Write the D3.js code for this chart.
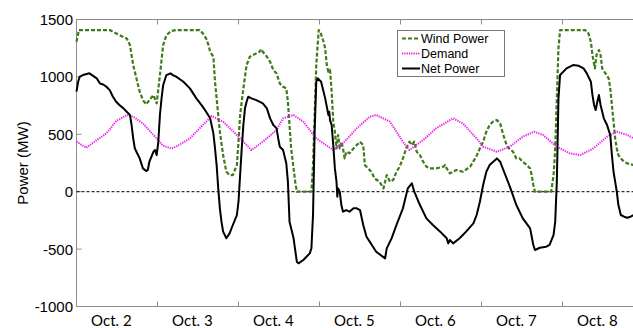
<!DOCTYPE html>
<html>
<meta charset="utf-8">
<script src="https://d3js.org/d3.v7.min.js"></script>
<style>
  body { margin: 0; background: #fff; }
</style>
<body>
<div id="my_dataviz"></div>
<script>

// data (x in days since Oct. 2 00:00, values in MW)
var windDays = [0.00,0.03,0.41,0.45,0.53,0.62,0.66,0.70,0.74,0.78,0.82,0.86,0.90,0.95,0.99,1.03,1.07,1.11,1.17,1.23,
  1.52,1.56,1.60,1.63,1.65,1.69,1.71,1.73,1.75,1.77,1.81,1.85,1.89,1.93,1.98,2.00,2.02,2.06,2.10,2.14,2.18,2.22,2.26,2.28,2.30,2.35,2.39,2.43,2.47,
  2.51,2.55,2.59,2.61,2.63,2.65,2.68,2.70,2.72,2.90,2.92,2.94,2.96,2.99,3.01,3.05,3.07,3.09,3.11,3.13,3.15,3.17,3.19,3.21,3.23,3.25,3.27,3.29,3.31,3.33,3.37,3.42,3.46,3.50,3.54,3.56,3.60,3.64,3.68,
  3.74,3.79,3.81,3.83,3.87,3.91,3.95,3.99,4.03,4.07,4.11,4.14,4.17,4.20,4.24,4.28,4.32,4.36,4.44,4.53,4.55,4.57,4.61,4.69,4.77,4.86,4.94,
  4.98,5.02,5.06,5.10,5.14,5.19,5.23,5.27,5.31,5.34,5.39,5.43,5.47,5.51,5.56,5.60,5.62,5.64,5.66,5.86,5.89,5.91,5.93,5.95,5.97,
  6.28,6.32,6.35,6.37,6.40,6.42,6.45,6.47,6.49,6.53,6.57,6.59,6.61,6.63,6.65,6.67,6.69,6.72,6.76,6.80,6.88];
var windMW = [1306,1408,1408,1393,1364,1335,1277,1103,987,871,798,761,798,842,769,1016,1277,1364,1400,1408,
  1408,1379,1335,1277,1219,1176,958,813,668,523,319,174,145,145,232,435,668,900,1103,1176,1190,1205,1219,1242,1219,1176,1132,1060,1030,
  943,914,900,784,581,377,203,87,0,0,232,668,1103,1408,1393,1306,1248,1103,1045,1060,871,610,523,377,494,377,435,377,290,348,334,377,406,435,406,232,203,174,116,
  87,29,87,145,87,102,174,218,290,377,435,406,435,348,319,261,218,203,203,218,232,203,160,189,174,218,312,
  377,435,523,581,610,624,595,494,406,377,348,290,290,261,232,203,145,58,0,0,145,377,813,1248,1408,
  1408,1379,1306,1190,1074,1190,1234,1190,1074,1031,987,900,755,610,465,377,319,290,261,247,232];

var demandDays = [0.00,0.12,0.25,0.37,0.49,0.62,0.70,0.82,0.95,1.07,1.17,1.23,1.40,1.56,1.67,1.81,1.98,2.16,2.30,2.47,
  2.55,2.68,2.80,2.96,3.17,3.29,3.46,3.62,3.70,3.87,4.03,4.11,4.28,4.44,4.65,4.77,4.94,
  5.02,5.19,5.35,5.51,5.65,5.76,5.93,6.09,6.22,6.38,6.55,6.67,6.80,6.88];
var demandMW = [435,383,450,508,615,668,653,595,494,401,377,392,464,581,659,610,494,363,435,537,
  639,668,610,464,363,421,552,653,668,610,435,363,450,552,639,595,464,
  392,348,392,479,523,494,392,334,319,377,479,523,494,464];

var netDays = [0.00,0.02,0.04,0.08,0.16,0.25,0.29,0.33,0.37,0.41,0.45,0.49,0.53,0.58,0.62,0.66,0.68,0.70,0.72,0.74,0.78,0.82,0.86,0.88,0.90,0.95,0.97,0.99,1.01,1.03,1.05,1.07,1.11,1.16,1.19,1.23,
  1.32,1.40,1.48,1.56,1.60,1.65,1.69,1.71,1.73,1.75,1.77,1.79,1.81,1.85,1.89,1.93,1.98,2.00,2.02,2.04,2.06,2.08,2.10,2.12,2.16,2.22,2.30,2.35,2.39,2.43,2.47,
  2.49,2.51,2.55,2.59,2.61,2.63,2.68,2.72,2.74,2.80,2.88,2.90,2.92,2.94,2.96,2.98,3.02,3.07,3.11,3.12,3.13,3.15,3.17,3.19,3.21,3.22,3.23,3.25,3.27,3.29,3.33,3.37,3.42,3.46,3.50,3.54,3.58,3.62,3.66,3.70,
  3.81,3.83,3.89,3.95,4.03,4.09,4.14,4.17,4.24,4.32,4.40,4.49,4.57,4.59,4.61,4.65,4.73,4.81,4.90,4.94,
  4.98,5.02,5.06,5.10,5.19,5.23,5.27,5.35,5.43,5.51,5.60,5.64,5.66,5.72,5.80,5.84,5.89,5.91,5.93,5.95,5.97,6.05,6.13,6.20,
  6.26,6.30,6.35,6.37,6.39,6.41,6.43,6.45,6.47,6.51,6.55,6.59,6.61,6.63,6.65,6.67,6.69,6.72,6.76,6.80,6.84,6.88];
var netMW = [871,958,1002,1016,1031,987,943,934,914,885,827,784,755,726,697,668,581,465,377,348,290,203,180,189,261,348,363,319,435,668,813,929,1016,1031,1016,1002,
  958,900,813,739,697,639,508,377,232,29,-145,-261,-348,-406,-363,-290,-203,-87,145,377,581,726,784,827,813,798,769,726,639,581,552,
  465,392,363,247,87,-261,-406,-610,-624,-595,-537,-494,-203,523,958,987,958,813,668,697,624,581,406,203,87,-44,29,0,-116,-174,-160,-174,-145,-145,-160,-290,-392,-435,-479,-523,
  -581,-494,-406,-290,-145,29,73,0,-116,-232,-290,-348,-406,-450,-421,-450,-406,-348,-276,-203,
  -87,58,174,232,290,261,189,44,-116,-232,-319,-464,-508,-488,-479,-464,-377,-261,87,813,1016,1074,1103,1097,
  1074,1031,958,842,755,711,784,842,755,639,581,493,319,174,87,0,-116,-203,-218,-227,-218,-203];

var dayLabels = ["Oct. 2","Oct. 3","Oct. 4","Oct. 5","Oct. 6","Oct. 7","Oct. 8"];
var dayTicks = [1, 2, 3, 4, 5, 6, 7];
var yTicks = [-1000, -500, 0, 500, 1000, 1500];

var width = 633, height = 328;

var svg = d3.select("#my_dataviz")
  .append("svg")
    .attr("width", width)
    .attr("height", height)
    .style("display", "block");

// scales
var x = d3.scaleLinear().domain([0, 7]).range([76.5, 643.5]);
var y = d3.scaleLinear().domain([-1000, 1500]).range([306.5, 19.5]);

var axisColor = "#8c8c8c";

// frame: left, bottom and top (the right edge is cut off in the picture)
svg.append("line").attr("x1", x(0)).attr("x2", x(0)).attr("y1", y(1500)).attr("y2", y(-1000))
  .attr("stroke", axisColor).attr("stroke-width", 1);
svg.append("line").attr("x1", x(0)).attr("x2", width).attr("y1", y(-1000)).attr("y2", y(-1000))
  .attr("stroke", axisColor).attr("stroke-width", 1);
svg.append("line").attr("x1", x(0)).attr("x2", width).attr("y1", y(1500)).attr("y2", y(1500))
  .attr("stroke", axisColor).attr("stroke-width", 1);

// inward ticks on bottom and top
svg.append("g").selectAll("line.bt").data(dayTicks).enter().append("line")
  .attr("x1", function(d){ return x(d); }).attr("x2", function(d){ return x(d); })
  .attr("y1", y(-1000)).attr("y2", y(-1000) - 5)
  .attr("stroke", axisColor);
svg.append("g").selectAll("line.tt").data(dayTicks).enter().append("line")
  .attr("x1", function(d){ return x(d); }).attr("x2", function(d){ return x(d); })
  .attr("y1", y(1500)).attr("y2", y(1500) + 5)
  .attr("stroke", axisColor);

// y ticks and labels
svg.append("g").selectAll("line").data(yTicks).enter().append("line")
  .attr("x1", x(0)).attr("x2", x(0) + 5)
  .attr("y1", function(d){ return y(d); }).attr("y2", function(d){ return y(d); })
  .attr("stroke", axisColor);
svg.append("g").selectAll("text").data(yTicks).enter().append("text")
  .attr("x", 73)
  .attr("y", function(d){ return y(d); })
  .attr("dy", "0.36em")
  .attr("text-anchor", "end")
  .style("font-family", "Liberation Sans, Arial, sans-serif")
  .style("font-size", "15px")
  .text(function(d){ return d; });

// day labels under the axis
svg.append("g").selectAll("text").data(dayLabels).enter().append("text")
  .attr("x", function(d, i){ return x(i + 0.43); })
  .attr("y", 326)
  .attr("text-anchor", "middle")
  .style("font-family", "Lato, sans-serif")
  .style("font-size", "15px")
  .text(function(d){ return d; });

// y axis title
svg.append("text")
  .attr("transform", "translate(28," + ((y(1500) + y(-1000)) / 2) + ") rotate(-90)")
  .attr("text-anchor", "middle")
  .style("font-family", "Liberation Sans, Arial, sans-serif")
  .style("font-size", "15px")
  .text("Power (MW)");

// zero line
svg.append("line")
  .attr("x1", x(0)).attr("x2", width)
  .attr("y1", y(0)).attr("y2", y(0))
  .attr("stroke", "#000").attr("stroke-width", 1)
  .attr("stroke-dasharray", "3,2");

var line = d3.line()
  .x(function(d){ return x(d[0]); })
  .y(function(d){ return y(d[1]); });

function pairs(ds, vs) { return ds.map(function(d, i){ return [d, vs[i]]; }); }

var series = [
  {name: "Wind Power", data: pairs(windDays, windMW), color: "#3f7a1c", width: 2.2, dash: "4,2"},
  {name: "Demand", data: pairs(demandDays, demandMW), color: "#ee22ee", width: 2, dash: "1.3,1"},
  {name: "Net Power", data: pairs(netDays, netMW), color: "#000000", width: 2, dash: null}
];

svg.append("g").selectAll("path").data(series).enter().append("path")
  .attr("d", function(d){ return line(d.data); })
  .attr("fill", "none")
  .attr("stroke", function(d){ return d.color; })
  .attr("stroke-width", function(d){ return d.width; })
  .attr("stroke-dasharray", function(d){ return d.dash; })
  .attr("stroke-linejoin", "round");

// legend
var legend = svg.append("g").attr("transform", "translate(397,30)");
legend.append("rect")
  .attr("x", 0.5).attr("y", 0.5).attr("width", 107).attr("height", 46)
  .attr("fill", "#fff").attr("stroke", "#777").attr("stroke-width", 1);
var items = legend.selectAll("g").data(series).enter().append("g")
  .attr("transform", function(d, i){ return "translate(0," + (8.5 + i * 15) + ")"; });
items.append("line")
  .attr("x1", 5).attr("x2", 23).attr("y1", 0).attr("y2", 0)
  .attr("stroke", function(d){ return d.color; })
  .attr("stroke-width", function(d){ return d.width; })
  .attr("stroke-dasharray", function(d){ return d.dash; });
items.append("text")
  .attr("x", 24).attr("y", 0).attr("dy", "0.36em")
  .style("font-family", "Liberation Sans, Arial, sans-serif")
  .style("font-size", "12.5px")
  .text(function(d){ return d.name; });

</script>
</body>
</html>
